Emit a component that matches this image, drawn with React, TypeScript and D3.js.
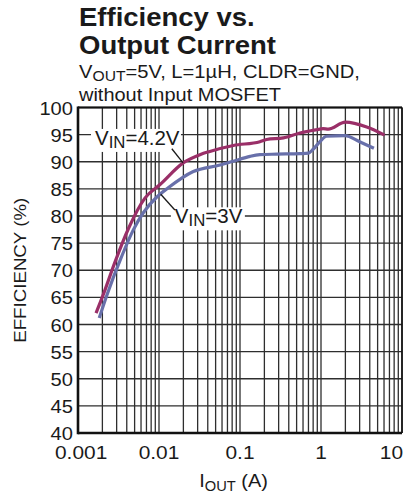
import React from "react";
import * as d3 from "d3";

// ---- data ----
const vin42Current = [0.00167, 0.00205, 0.00286, 0.0042, 0.0067, 0.0103, 0.0199, 0.032, 0.0424, 0.0828, 0.176, 0.213, 0.343, 0.55, 0.88, 1.06, 1.23, 2.0, 3.67, 6.1];
const vin42Eff = [62.1, 65.5, 71.5, 77.7, 83.3, 85.8, 89.8, 91.3, 91.9, 93.0, 93.7, 94.1, 94.4, 95.3, 95.9, 96.1, 96.0, 97.3, 96.4, 94.9];

const vin3Current = [0.00183, 0.00226, 0.00345, 0.0048, 0.0064, 0.0094, 0.013, 0.0265, 0.0567, 0.0828, 0.133, 0.176, 0.284, 0.55, 0.7, 0.8, 0.97, 1.17, 1.97, 3.0, 4.5];
const vin3Eff = [61.2, 65.3, 72.5, 77.4, 80.6, 83.5, 85.2, 88.2, 89.4, 90.1, 91.0, 91.3, 91.4, 91.5, 91.6, 92.3, 93.7, 94.7, 94.8, 93.7, 92.5];

const xTickValues = [0.001, 0.01, 0.1, 1, 10];
const xTickLabels = ["0.001", "0.01", "0.1", "1", "10"];
const yTickValues = [40, 45, 50, 55, 60, 65, 70, 75, 80, 85, 90, 95, 100];
const decades = [0.001, 0.01, 0.1, 1];

// annotation anchors in data space
const label42 = { i: 0.00162, e: 93.1 };
const leader42 = [ { i: 0.0144, e: 92.4 }, { i: 0.0198, e: 89.8 } ];
const label3 = { i: 0.0157, e: 78.65 };
const leader3 = [ { i: 0.0105, e: 84.0 }, { i: 0.0157, e: 81.1 } ];

const W = 403;
const H = 498;
const SX = 1.1;
const FONT = "'Liberation Sans', Arial, Helvetica, sans-serif";

export default function App() {
  const x = d3.scaleLog().domain([0.001, 10]).range([78, 402]);
  const y = d3.scaleLinear().domain([40, 100]).range([433, 107.5]);

  const line = d3
    .line<[number, number]>()
    .x((d) => x(d[0]))
    .y((d) => y(d[1]))
    .curve(d3.curveMonotoneX);

  const s42 = vin42Current.map((c, i) => [c, vin42Eff[i]] as [number, number]);
  const s3 = vin3Current.map((c, i) => [c, vin3Eff[i]] as [number, number]);

  const vGrid: number[] = [];
  decades.forEach((d) => {
    for (let k = 1; k <= 9; k++) vGrid.push(k * d);
  });
  vGrid.push(10);

  const tickFont = 19;
  const charW = (s: string) => s.length * 0.556 * tickFont * SX - (s.includes(".") ? 0.278 * tickFont * SX : 0);

  const x0 = x.range()[0];
  const x1 = x.range()[1];
  const yTop = y(100);
  const yBot = y(40);

  return (
    <svg
      width={W}
      height={H}
      style={{ position: "absolute", left: 0, top: 0, background: "#fff" }}
      fontFamily={FONT}
    >
      <rect x={0} y={0} width={W} height={H} fill="#fff" />
      {/* title */}
      <g transform={`translate(79,25.5) scale(${SX},1)`}>
        <text fontSize={25} fontWeight="bold" fill="#1a1a1a">Efficiency vs.</text>
      </g>
      <g transform={`translate(79,53.5) scale(${SX},1)`}>
        <text fontSize={25} fontWeight="bold" fill="#1a1a1a">Output Current</text>
      </g>
      <g transform={`translate(79,77.5) scale(1.12,1)`}>
        <text fontSize={18} fill="#1a1a1a">
          V<tspan fontSize={14} dy={3}>OUT</tspan>
          <tspan dy={-3}>=5V, L=1µH, CLDR=GND,</tspan>
        </text>
      </g>
      <g transform={`translate(79,101) scale(1.11,1)`}>
        <text fontSize={18} fill="#1a1a1a">without Input MOSFET</text>
      </g>

      {/* grid */}
      {yTickValues.map((v) => (
        <line key={"h" + v} x1={x0} x2={x1} y1={y(v)} y2={y(v)} stroke="#2e2e2e" strokeWidth={1.4} />
      ))}
      {vGrid.map((v, i) => (
        <line
          key={"v" + i}
          x1={x(v)}
          x2={x(v)}
          y1={yTop}
          y2={yBot}
          stroke="#2e2e2e"
          strokeWidth={1.3}
        />
      ))}

      {/* annotation backgrounds */}
      <rect x={x(label42.i) - 4} y={y(label42.e) - 16} width={90} height={23} fill="#fff" />
      <rect x={x(label3.i) - 4} y={y(label3.e) - 16} width={74} height={23} fill="#fff" />

      {/* frame */}
      <line x1={x0} x2={x1} y1={yTop} y2={yTop} stroke="#111" strokeWidth={2.2} />
      <line x1={x1} x2={x1} y1={yTop} y2={yBot} stroke="#111" strokeWidth={1.6} />
      <line x1={x0} x2={x0} y1={yTop - 1} y2={yBot + 1.3} stroke="#111" strokeWidth={2.6} />
      <line x1={x0} x2={x1} y1={yBot} y2={yBot} stroke="#111" strokeWidth={2.6} />

      {/* curves */}
      <path d={line(s3) || ""} fill="none" stroke="#6870aa" strokeWidth={3.2} strokeLinejoin="round" />
      <path d={line(s42) || ""} fill="none" stroke="#9a2f68" strokeWidth={3.2} strokeLinejoin="round" />

      {/* leaders */}
      <line
        x1={x(leader42[0].i)}
        y1={y(leader42[0].e)}
        x2={x(leader42[1].i)}
        y2={y(leader42[1].e)}
        stroke="#1a1a1a"
        strokeWidth={1.3}
      />
      <line
        x1={x(leader3[0].i)}
        y1={y(leader3[0].e)}
        x2={x(leader3[1].i)}
        y2={y(leader3[1].e)}
        stroke="#1a1a1a"
        strokeWidth={1.3}
      />

      {/* annotation text */}
      <g transform={`translate(${x(label42.i)},${y(label42.e)}) scale(1.05,1)`}>
        <text fontSize={19.5} fill="#1a1a1a">
          V<tspan fontSize={16} dy={3}>IN</tspan>
          <tspan dy={-3}>=4.2V</tspan>
        </text>
      </g>
      <g transform={`translate(${x(label3.i)},${y(label3.e)}) scale(1.05,1)`}>
        <text fontSize={19.5} fill="#1a1a1a">
          V<tspan fontSize={16} dy={3}>IN</tspan>
          <tspan dy={-3}>=3V</tspan>
        </text>
      </g>

      {/* y tick labels */}
      {yTickValues.map((v) => (
        <g key={"yl" + v} transform={`translate(73,${y(v) + 7}) scale(1.06,1)`}>
          <text fontSize={tickFont} textAnchor="end" fill="#1a1a1a">
            {v}
          </text>
        </g>
      ))}

      {/* x tick labels */}
      {xTickValues.map((v, i) => {
        const w = charW(xTickLabels[i]);
        let cx = x(v);
        cx = Math.max(cx, 55 + w / 2);
        cx = Math.min(cx, W - w / 2);
        return (
          <g key={"xl" + v} transform={`translate(${cx},458.5) scale(${SX},1)`}>
            <text fontSize={tickFont} textAnchor="middle" fill="#1a1a1a">
              {xTickLabels[i]}
            </text>
          </g>
        );
      })}

      {/* axis titles */}
      <g transform={`translate(233.5,487) scale(1.05,1)`}>
        <text fontSize={19} textAnchor="middle" fill="#1a1a1a">
          I<tspan fontSize={14} dy={4}>OUT</tspan>
          <tspan dy={-4}> (A)</tspan>
        </text>
      </g>
      <g transform={`translate(25.5,${(yTop + yBot) / 2}) rotate(-90) scale(${SX},1)`}>
        <text fontSize={17} textAnchor="middle" fill="#1a1a1a">
          EFFICIENCY (%)
        </text>
      </g>
    </svg>
  );
}
